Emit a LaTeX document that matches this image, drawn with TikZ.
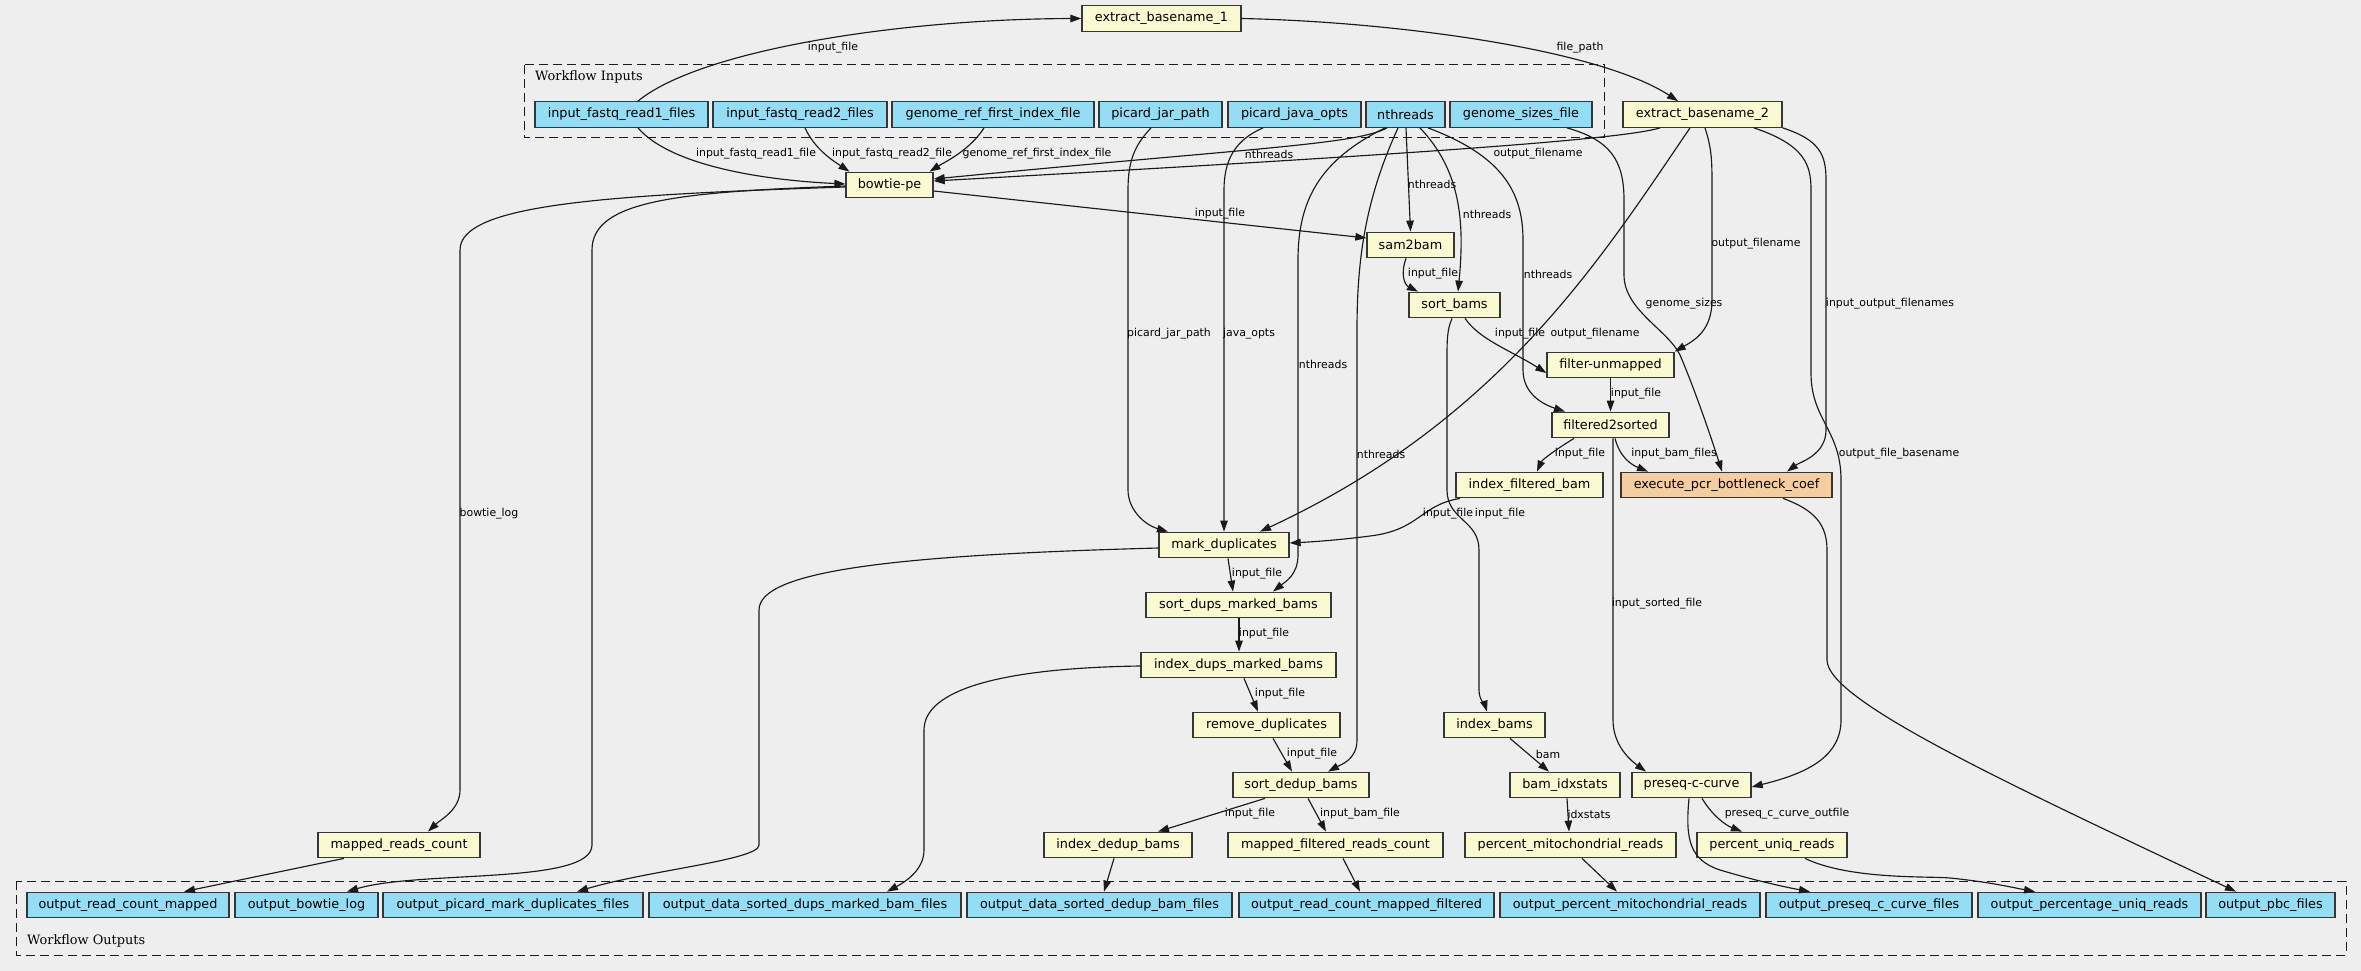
\documentclass[tikz,border=0pt]{standalone}
\usepackage{fontspec}
\usetikzlibrary{arrows.meta}
\newfontfamily\sansfam{DejaVu Sans}
\newfontfamily\seriffam{DejaVu Serif}
\definecolor{bgc}{HTML}{EEEEEE}
\definecolor{incol}{HTML}{94DDF4}
\definecolor{stepcol}{HTML}{FAFAD2}
\definecolor{orcol}{HTML}{F4CEA0}
\definecolor{bordcol}{HTML}{363636}
\definecolor{edgecol}{HTML}{1A1A1A}
\newcommand{\nfont}{\sansfam\fontsize{12.8}{14}\selectfont}
\newcommand{\lfont}{\sansfam\fontsize{10.9}{12}\selectfont}
\newcommand{\cfont}{\seriffam\fontsize{12.9}{14}\selectfont}
\tikzset{
  box/.style={draw=bordcol, line width=1.3pt, rectangle, minimum height=25.5pt, inner sep=0pt, font=\nfont, text=black},
  inp/.style={box, fill=incol},
  stp/.style={box, fill=stepcol},
  orn/.style={box, fill=orcol},
  edge/.style={draw=edgecol, line width=1.15pt, -{Triangle[length=11pt,width=7.5pt]}},
  lab/.style={font=\lfont, inner sep=0pt, text=black},
  clus/.style={draw=edgecol, line width=1.0pt, dash pattern=on 9pt off 5pt},
  clab/.style={font=\cfont, inner sep=0pt, anchor=west, text=black}
}
\begin{document}
\begin{tikzpicture}[x=1pt,y=-1pt]
\fill[bgc] (0,0) rectangle (2361,971);
\useasboundingbox (0,0) rectangle (2361,971);

% clusters
\draw[clus] (524,65) rectangle (1604,138);
\node[clab] (cin) at (535,77) {Workflow Inputs};
\draw[clus] (16,881) rectangle (2346,955);
\node[clab] (cout) at (27,941) {Workflow Outputs};

% inputs
\node[inp, minimum width=173pt] (in1) at (621.5,114.5) {input\_fastq\_read1\_files};
\node[inp, minimum width=174pt] (in2) at (800,114.5) {input\_fastq\_read2\_files};
\node[inp, minimum width=202pt] (gref) at (993,114.5) {genome\_ref\_first\_index\_file};
\node[inp, minimum width=123pt] (pjar) at (1160.5,114.5) {picard\_jar\_path};
\node[inp, minimum width=133pt] (popts) at (1294.5,114.5) {picard\_java\_opts};
\node[inp, minimum width=79pt] (nthr) at (1405.5,114.5) {nthreads};
\node[inp, minimum width=142pt] (gsz) at (1521,114.5) {genome\_sizes\_file};

% steps
\node[stp, minimum width=159pt] (eb1) at (1161.5,18.5) {extract\_basename\_1};
\node[stp, minimum width=159pt] (eb2) at (1702.5,114.5) {extract\_basename\_2};
\node[stp, minimum width=87pt] (bowtie) at (889.5,185) {bowtie-pe};
\node[stp, minimum width=87pt] (sam2bam) at (1410.5,245) {sam2bam};
\node[stp, minimum width=91pt] (sortbams) at (1454.5,305) {sort\_bams};
\node[stp, minimum width=127pt] (fu) at (1610.5,365) {filter-unmapped};
\node[stp, minimum width=117pt] (f2s) at (1610.5,425) {filtered2sorted};
\node[stp, minimum width=147pt] (ifb) at (1529.5,485) {index\_filtered\_bam};
\node[orn, minimum width=211pt] (epcr) at (1726.5,485) {execute\_pcr\_bottleneck\_coef};
\node[stp, minimum width=130pt] (markdup) at (1224,545) {mark\_duplicates};
\node[stp, minimum width=185pt] (sdups) at (1238.5,605) {sort\_dups\_marked\_bams};
\node[stp, minimum width=195pt] (idups) at (1238.5,665) {index\_dups\_marked\_bams};
\node[stp, minimum width=147pt] (rmdup) at (1266.5,725) {remove\_duplicates};
\node[stp, minimum width=136pt] (sdedup) at (1301,785) {sort\_dedup\_bams};
\node[stp, minimum width=148pt] (idedup) at (1118,845) {index\_dedup\_bams};
\node[stp, minimum width=215pt] (mfrc) at (1335.5,845) {mapped\_filtered\_reads\_count};
\node[stp, minimum width=101pt] (ibams) at (1494.5,725) {index\_bams};
\node[stp, minimum width=110pt] (bidx) at (1565,785) {bam\_idxstats};
\node[stp, minimum width=211pt] (pmito) at (1570.5,845) {percent\_mitochondrial\_reads};
\node[stp, minimum width=119pt] (preseq) at (1691.5,785) {preseq-c-curve};
\node[stp, minimum width=150pt] (puniq) at (1772,845) {percent\_uniq\_reads};
\node[stp, minimum width=162pt] (mrc) at (399,845) {mapped\_reads\_count};

% outputs
\node[inp, minimum width=202pt] (o1) at (128,905) {output\_read\_count\_mapped};
\node[inp, minimum width=143pt] (o2) at (306.5,905) {output\_bowtie\_log};
\node[inp, minimum width=260pt] (o3) at (513,905) {output\_picard\_mark\_duplicates\_files};
\node[inp, minimum width=312pt] (o4) at (805,905) {output\_data\_sorted\_dups\_marked\_bam\_files};
\node[inp, minimum width=265pt] (o5) at (1099.5,905) {output\_data\_sorted\_dedup\_bam\_files};
\node[inp, minimum width=255pt] (o6) at (1366.5,905) {output\_read\_count\_mapped\_filtered};
\node[inp, minimum width=260pt] (o7) at (1630,905) {output\_percent\_mitochondrial\_reads};
\node[inp, minimum width=206pt] (o8) at (1869,905) {output\_preseq\_c\_curve\_files};
\node[inp, minimum width=223pt] (o9) at (2089.5,905) {output\_percentage\_uniq\_reads};
\node[inp, minimum width=129pt] (o10) at (2270.5,905) {output\_pbc\_files};

% edges
\draw[edge] ([xshift=16.5]in1.north) .. controls (700,50) and (900,19) .. (eb1.west)
  node[lab] at (833,48) {input\_file};
\draw[edge] (eb1.east) .. controls (1400,22) and (1600,50) .. ([xshift=-24.5]eb2.north)
  node[lab] at (1580,48) {file\_path};
\draw[edge] ([xshift=16.5]in1.south) .. controls (670,165) and (760,180) .. ([yshift=1]bowtie.west)
  node[lab] at (756,154) {input\_fastq\_read1\_file};
\draw[edge] ([xshift=5]in2.south) .. controls (815,150) and (835,162) .. ([xshift=-40]bowtie.north)
  node[lab] at (892,154) {input\_fastq\_read2\_file};
\draw[edge] ([xshift=-9]gref.south) .. controls (970,150) and (945,162) .. ([xshift=40]bowtie.north)
  node[lab] at (1037,154) {genome\_ref\_first\_index\_file};
\draw[edge] ([xshift=-18.5]nthr.south) .. controls (1355,145) and (1250,148) .. ([yshift=6]bowtie.east)
  node[lab] at (1269,154) {nthreads};
\draw[edge] ([xshift=-42.5]eb2.south) .. controls (1620,140) and (1400,155) .. ([yshift=4]bowtie.east)
  node[lab] at (1538,154) {output\_filename};
\draw[edge] ([yshift=-6]bowtie.east) -- ([yshift=7]sam2bam.west)
  node[lab] at (1220,214) {input\_file};
\draw[edge] ([yshift=-2]bowtie.west) .. controls (600,195) and (460,205) .. (460,250) -- (460,790)
  .. controls (460,810) and (440,820) .. ([xshift=29]mrc.north)
  node[lab] at (489,514) {bowtie\_log};
\draw[edge] ([yshift=-1]bowtie.west) .. controls (680,192) and (592,200) .. (592,250) -- (592,845)
  .. controls (592,885) and (420,870) .. ([xshift=40.5]o2.north);
\draw[edge] ([xshift=0.5]nthr.south) -- (sam2bam.north)
  node[lab] at (1432,184) {nthreads};
\draw[edge] ([xshift=14.5]nthr.south) .. controls (1460,170) and (1465,220) .. ([xshift=3.5]sortbams.north)
  node[lab] at (1487,214) {nthreads};
\draw[edge] ([xshift=22.5]nthr.south) .. controls (1500,155) and (1523,190) .. (1523,240) -- (1523,370)
  .. controls (1523,395) and (1545,405) .. ([xshift=-45.5]f2s.north)
  node[lab] at (1548,274) {nthreads};
\draw[edge] ([xshift=-20.5]nthr.south) .. controls (1320,160) and (1298,200) .. (1298,260) -- (1298,555)
  .. controls (1298,575) and (1285,582) .. ([xshift=34.5]sdups.north)
  node[lab] at (1323,364) {nthreads};
\draw[edge] ([xshift=-7.5]nthr.south) .. controls (1365,200) and (1357,260) .. (1357,330) -- (1357,740)
  .. controls (1357,760) and (1340,765) .. ([xshift=27]sdedup.north)
  node[lab] at (1381,454) {nthreads};
\draw[edge] ([xshift=-4.5]sam2bam.south) .. controls (1400,275) and (1405,285) .. ([xshift=-36.5]sortbams.north)
  node[lab] at (1433,274) {input\_file};
\draw[edge] ([xshift=10.5]sortbams.south) .. controls (1480,340) and (1510,350) .. ([yshift=-8]fu.west)
  node[lab] at (1520,334) {input\_file};
\draw[edge] ([xshift=2.5]eb2.south) .. controls (1712,150) and (1712,160) .. (1712,190) -- (1712,300)
  .. controls (1712,330) and (1695,340) .. (fu.north east)
  node[lab] at (1756,244) {output\_filename};
\draw[edge] ([xshift=46]gsz.south) .. controls (1610,140) and (1624,160) .. (1624,200) -- (1624,275)
  .. controls (1624,310) and (1668,330) .. (1680,355) .. controls (1695,390) and (1712,440) .. ([xshift=-4.5]epcr.north)
  node[lab] at (1684,304) {genome\_sizes};
\draw[edge] (fu.south) -- (f2s.north)
  node[lab] at (1636,394) {input\_file};
\draw[edge] ([xshift=-36.5]f2s.south) .. controls (1555,450) and (1542,460) .. ([xshift=7.5]ifb.north)
  node[lab] at (1580,454) {input\_file};
\draw[edge] ([xshift=4.5]f2s.south) .. controls (1620,458) and (1632,465) .. ([xshift=-78.5]epcr.north)
  node[lab] at (1674,454) {input\_bam\_files};
\draw[edge] ([xshift=2.5]f2s.south) -- (1613,720) .. controls (1613,745) and (1630,760) .. ([xshift=-45.5]preseq.north)
  node[lab] at (1657,604) {input\_sorted\_file};
\draw[edge] (eb2.south east) .. controls (1820,140) and (1826,155) .. (1826,180) -- (1826,430)
  .. controls (1826,455) and (1800,462) .. ([xshift=60.5]epcr.north)
  node[lab] at (1890,304) {input\_output\_filenames};
\draw[edge] ([xshift=51.5]eb2.south) .. controls (1805,145) and (1811,165) .. (1811,190) -- (1811,373)
  .. controls (1811,420) and (1841,430) .. (1841,480) -- (1841,720)
  .. controls (1841,760) and (1800,775) .. ([yshift=-2]preseq.east)
  node[lab] at (1899,454) {output\_file\_basename};
\draw[edge] ([xshift=-12.5]eb2.south) .. controls (1600,260) and (1500,420) .. ([xshift=36]markdup.north)
  node[lab] at (1595,334) {output\_filename};
\draw[edge] ([xshift=-9.5]pjar.south) .. controls (1135,145) and (1128,160) .. (1128,190) -- (1128,490)
  .. controls (1128,510) and (1145,525) .. ([xshift=-56]markdup.north)
  node[lab] at (1169,334) {picard\_jar\_path};
\draw[edge] ([xshift=-31.5]popts.south) .. controls (1235,140) and (1224,160) .. (1224,190) -- (markdup.north)
  node[lab] at (1249,334) {java\_opts};
\draw[edge] ([xshift=-69.5]ifb.south) .. controls (1420,505) and (1420,530) .. (1370,536)
  .. controls (1340,540) and (1310,542) .. ([yshift=2]markdup.east)
  node[lab] at (1448,514) {input\_file};
\draw[edge] ([xshift=-2.5]sortbams.south) .. controls (1447,330) and (1447,340) .. (1447,360) -- (1447,490)
  .. controls (1447,520) and (1479,520) .. (1479,550) -- (1479,690)
  .. controls (1479,700) and (1485,705) .. ([xshift=-7.5]ibams.north)
  node[lab] at (1500,514) {input\_file};
\draw[edge] ([xshift=4]markdup.south) -- ([xshift=-5.5]sdups.north)
  node[lab] at (1257,574) {input\_file};
\draw[edge] ([xshift=0.5]sdups.south) -- ([xshift=0.5]idups.north)
  node[lab] at (1264,634) {input\_file};
\draw[edge] ([yshift=-3]markdup.west) .. controls (900,555) and (759,570) .. (759,610) -- (759,845)
  .. controls (759,860) and (650,870) .. ([xshift=64]o3.north);
\draw[edge] ([yshift=-1]idups.west) .. controls (1000,668) and (924,690) .. (924,730) -- (924,850)
  .. controls (924,870) and (905,882) .. ([xshift=82]o4.north);
\draw[edge] ([xshift=5.5]idups.south) -- ([xshift=-8.5]rmdup.north)
  node[lab] at (1280,694) {input\_file};
\draw[edge] ([xshift=6.5]rmdup.south) -- ([xshift=-9]sdedup.north)
  node[lab] at (1312,754) {input\_file};
\draw[edge] ([xshift=-36]sdedup.south) -- ([xshift=40]idedup.north)
  node[lab] at (1250,814) {input\_file};
\draw[edge] ([xshift=7]sdedup.south) -- ([xshift=-9.5]mfrc.north)
  node[lab] at (1360,814) {input\_bam\_file};
\draw[edge] ([xshift=-4]idedup.south) -- ([xshift=4.5]o5.north);
\draw[edge] ([xshift=7.5]mfrc.south) -- ([xshift=-6.5]o6.north);
\draw[edge] ([xshift=15.5]ibams.south) -- ([xshift=-16]bidx.north)
  node[lab] at (1548,754) {bam};
\draw[edge] ([xshift=2]bidx.south) -- ([xshift=-1.5]pmito.north)
  node[lab] at (1589,814) {idxstats};
\draw[edge] ([xshift=11.5]pmito.south) -- ([xshift=-13]o7.north);
\draw[edge] ([xshift=10.5]preseq.south) .. controls (1712,815) and (1725,825) .. ([xshift=-30]puniq.north)
  node[lab] at (1787,814) {preseq\_c\_curve\_outfile};
\draw[edge] ([xshift=-2.5]preseq.south) .. controls (1685,840) and (1690,860) .. (1720,870)
  .. controls (1760,882) and (1790,888) .. ([xshift=-59]o8.north);
\draw[edge] ([xshift=33]puniq.south) .. controls (1850,880) and (1930,876) .. (1950,878)
  .. controls (1990,882) and (2015,888) .. ([xshift=-54.5]o9.north);
\draw[edge] ([xshift=-55]mrc.south) -- ([xshift=56]o1.north);
\draw[edge] ([xshift=56.5]epcr.south) .. controls (1815,510) and (1827,525) .. (1827,550) -- (1827,660)
  .. controls (1827,700) and (2000,780) .. ([xshift=-34.5]o10.north);
\end{tikzpicture}
\end{document}
